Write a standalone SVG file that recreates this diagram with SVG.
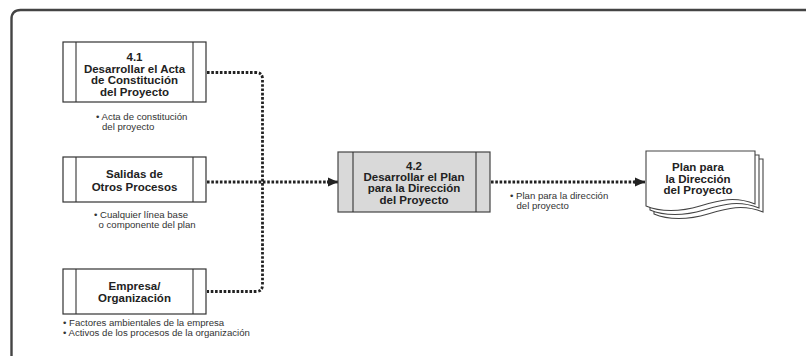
<svg xmlns="http://www.w3.org/2000/svg" width="806" height="356" viewBox="0 0 806 356">
<defs>
<style>
.box{fill:#fff;stroke:#333;stroke-width:1.2}
.gbox{fill:#d9d9d9;stroke:#444;stroke-width:1.2}
.ln{stroke:#333;stroke-width:1.1;fill:none}
.t{font-family:"Liberation Sans",Arial,sans-serif;font-weight:bold;font-size:11.5px;fill:#222;text-anchor:middle}
.b{font-family:"Liberation Sans",Arial,sans-serif;font-size:9.6px;fill:#333}
.dot{fill:none;stroke:#222;stroke-width:2.8;stroke-dasharray:2.6 1.7}
.page{fill:#fff;stroke:#444;stroke-width:1.1}
</style>
<marker id="ah" viewBox="0 0 10 10" refX="10" refY="5" markerWidth="10" markerHeight="10" markerUnits="userSpaceOnUse" orient="auto">
<path d="M0,0.5 L10,5 L0,9.5 Z" fill="#222"/>
</marker>
</defs>
<rect width="806" height="356" fill="#fff"/>
<path d="M11.5,356 V19 Q11.5,10 20.5,10 H806" fill="none" stroke="#444" stroke-width="2.4"/>

<g id="connectors">
<path class="dot" d="M207,72.5 H256 Q262.5,72.5 262.5,79 V285 Q262.5,291.5 256,291.5 H207"/>
<path class="dot" d="M207,182 H328"/>
<path d="M327,182 H338" stroke="#222" stroke-width="2.8" marker-end="url(#ah)"/>
<path class="dot" d="M491,182 H635"/>
<path d="M634,182 H645" stroke="#222" stroke-width="2.8" marker-end="url(#ah)"/>
</g>

<g id="n41">
<rect class="box" x="63" y="42" width="143" height="60"/>
<line class="ln" x1="76" y1="42" x2="76" y2="102"/>
<line class="ln" x1="193" y1="42" x2="193" y2="102"/>
<text class="t" x="134.5" y="61">4.1</text>
<text class="t" x="134.5" y="72.5">Desarrollar el Acta</text>
<text class="t" x="134.5" y="84">de Constitución</text>
<text class="t" x="134.5" y="95.5">del Proyecto</text>
<text class="b" x="96" y="120">• Acta de constitución</text>
<text class="b" x="102" y="130">del proyecto</text>
</g>

<g id="salidas">
<rect class="box" x="63" y="157" width="143" height="45"/>
<line class="ln" x1="76" y1="157" x2="76" y2="202"/>
<line class="ln" x1="193" y1="157" x2="193" y2="202"/>
<text class="t" x="134.5" y="178">Salidas de</text>
<text class="t" x="134.5" y="190.5">Otros Procesos</text>
<text class="b" x="94" y="218">• Cualquier línea base</text>
<text class="b" x="98.5" y="228">o componente del plan</text>
</g>

<g id="empresa">
<rect class="box" x="63" y="269" width="143" height="45"/>
<line class="ln" x1="76" y1="269" x2="76" y2="314"/>
<line class="ln" x1="193" y1="269" x2="193" y2="314"/>
<text class="t" x="134.5" y="290">Empresa/</text>
<text class="t" x="134.5" y="302">Organización</text>
<text class="b" x="63" y="326">• Factores ambientales de la empresa</text>
<text class="b" x="63" y="336">• Activos de los procesos de la organización</text>
</g>

<g id="n42">
<rect class="gbox" x="338" y="152" width="152" height="60"/>
<line class="ln" x1="353" y1="152" x2="353" y2="212"/>
<line class="ln" x1="476" y1="152" x2="476" y2="212"/>
<text class="t" x="414" y="170">4.2</text>
<text class="t" x="414" y="181">Desarrollar el Plan</text>
<text class="t" x="414" y="192">para la Dirección</text>
<text class="t" x="414" y="203.5">del Proyecto</text>
<text class="b" x="510" y="199">• Plan para la dirección</text>
<text class="b" x="516.5" y="209">del proyecto</text>
</g>

<g id="plan">
<path class="page" d="M654,159 H763 V212 C743,204 728,208 708,214 C688,220 668,220 654,214 Z"/>
<path class="page" d="M650,155 H759 V208 C739,200 724,204 704,210 C684,216 664,216 650,210 Z"/>
<path class="page" d="M646,151 H755 V204 C735,196 720,200 700,206 C680,212 660,212 646,206 Z"/>
<text class="t" x="698" y="171">Plan para</text>
<text class="t" x="698" y="182.5">la Dirección</text>
<text class="t" x="698" y="194">del Proyecto</text>
</g>
</svg>
